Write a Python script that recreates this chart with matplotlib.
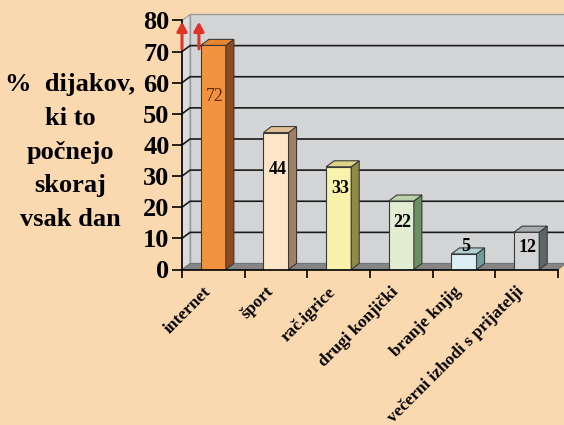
import matplotlib
matplotlib.use("Agg")
import matplotlib.pyplot as plt
from matplotlib.patches import Polygon
from matplotlib.transforms import offset_copy

categories = ["internet", "šport", "rač.igrice", "drugi konjički", "branje knjig",
              "večerni izhodi s prijatelji"]
values = [72, 44, 33, 22, 5, 12]
yticks = [0, 10, 20, 30, 40, 50, 60, 70, 80]
ylabel = "%  dijakov,\nki to\npočnejo\nskoraj\nvsak dan"

front_cols = ["#F39340", "#FDE6C8", "#F8F2AA", "#E2EDD2", "#DDEFF4", "#D2D4D6"]
top_cols = ["#E8852F", "#E0BE95", "#DCD488", "#B8D2A8", "#B0D2D2", "#A6AAAC"]
side_cols = ["#8E4A1E", "#A08060", "#8E8A48", "#6E8E66", "#6C9C9C", "#5E6666"]
label_cols = ["#5B2C0E", "black", "black", "black", "black", "black"]
label_weights = ["normal", "bold", "bold", "bold", "bold", "bold"]
label_off = [-16.5, -12, -7, -7, 2.5, -5]

BG = "#FAD9B1"
serif = ["Liberation Serif", "DejaVu Serif"]

fig = plt.figure(figsize=(5.64, 4.25), dpi=100, facecolor=BG)
ax = fig.add_axes([182 / 564, (425 - 269.5) / 425, 376 / 564, 249 / 425])
ax.set_facecolor("none")
ax.set_xlim(-0.5, 5.5)
ax.set_ylim(0, 80)

dx, dy = 0.128, 1.93
n = len(categories)
x0, x1 = -0.5, n - 0.5

# back wall
ax.add_patch(Polygon([(x0 + dx, dy), (x1 + dx, dy), (x1 + dx, 80 + dy), (x0 + dx, 80 + dy)],
                     closed=True, facecolor="#D3D4D6", edgecolor="#9A9A9A", lw=1,
                     clip_on=False, zorder=0))
# left wall
ax.add_patch(Polygon([(x0, 0), (x0 + dx, dy), (x0 + dx, 80 + dy), (x0, 80)],
                     closed=True, facecolor="#DCDCDE", edgecolor="#9A9A9A", lw=0.8,
                     clip_on=False, zorder=0))
# floor
ax.add_patch(Polygon([(x0, 0), (x1, 0), (x1 + dx, dy), (x0 + dx, dy)],
                     closed=True, facecolor="#858585", edgecolor="#707070", lw=0.6,
                     clip_on=False, zorder=1))
# grid lines
for t in yticks[1:-1]:
    ax.plot([x0, x0 + dx, x1 + dx], [t, t + dy, t + dy], color="#1A1A1A", lw=1.2,
            zorder=1, clip_on=False, solid_capstyle="butt")

# bars
w = 0.4
xs = list(range(n))
ax.bar(xs, values, width=w, color=front_cols, edgecolor="#3A3A3A", lw=0.8, zorder=3)
for i, v in enumerate(values):
    l, r = i - w / 2, i + w / 2
    ax.add_patch(Polygon([(r, 0), (r + dx, dy), (r + dx, v + dy), (r, v)], closed=True,
                         facecolor=side_cols[i], edgecolor="#3A3A3A", lw=0.8, zorder=3,
                         clip_on=False))
    ax.add_patch(Polygon([(l, v), (l + dx, v + dy), (r + dx, v + dy), (r, v)], closed=True,
                         facecolor=top_cols[i], edgecolor="#3A3A3A", lw=0.8, zorder=3,
                         clip_on=False))
    ax.text(i + 0.02, v + label_off[i], str(v), ha="center", va="center",
            fontsize=13, fontweight=label_weights[i], color=label_cols[i],
            family=serif, zorder=5)

# axes styling
for s in ["top", "right"]:
    ax.spines[s].set_visible(False)
for s in ["left", "bottom"]:
    ax.spines[s].set_color("black")
    ax.spines[s].set_linewidth(1.2)
    ax.spines[s].set_zorder(4)

ax.set_yticks(yticks)
ax.set_yticklabels([str(t) for t in yticks], fontsize=19, fontweight="bold",
                   family=serif, color="black")
ax.tick_params(axis="y", length=7, width=1.2, pad=2)
ax.set_xticks([i - 0.5 for i in range(n + 1)])
ax.set_xticklabels([])
ax.tick_params(axis="x", length=6, width=1.2, direction="out")

trans = offset_copy(ax.get_xaxis_transform(), fig=fig, x=-5, y=-20, units="dots")
for i, c in enumerate(categories):
    ax.text(i, 0, c, transform=trans, rotation=45, rotation_mode="anchor",
            ha="right", va="center", fontsize=12.5, fontweight="bold", family=serif)

fig.text(70 / 564, 1 - 152 / 425, ylabel, ha="center", va="center", fontsize=19,
         fontweight="bold", family=serif, linespacing=1.6)

# red arrows
for ax_x in [-0.5, -0.23]:
    ax.annotate("", xy=(ax_x, 80.5), xytext=(ax_x, 70),
                arrowprops=dict(arrowstyle="-|>,head_length=0.55,head_width=0.3",
                                color="#E03328", lw=2.2),
                annotation_clip=False, zorder=6)

fig.savefig("out.png", dpi=100, facecolor=BG)
